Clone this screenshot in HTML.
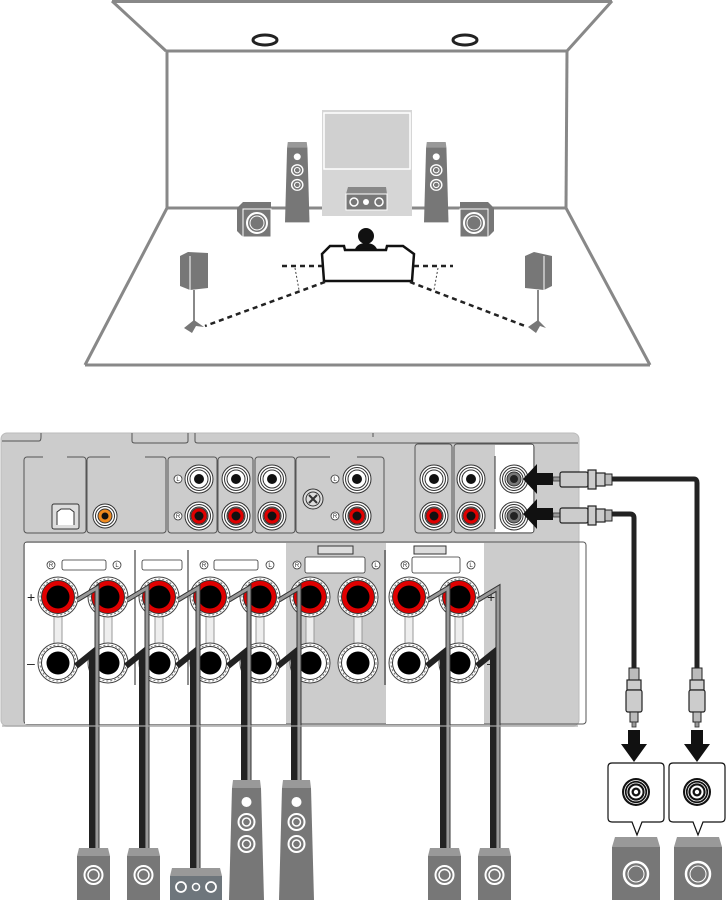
<!DOCTYPE html>
<html><head><meta charset="utf-8"><style>html,body{margin:0;padding:0;background:#fff}svg{display:block}</style></head>
<body>
<svg width="727" height="900" viewBox="0 0 727 900" xmlns="http://www.w3.org/2000/svg">
<defs>
  <g id="rca">
    <circle r="14" fill="#fff" stroke="#333" stroke-width="1"/>
    <circle r="11.5" fill="none" stroke="#333" stroke-width="1"/>
    <circle r="9" fill="#fff" stroke="#333" stroke-width="1"/>
  </g>
  <g id="rcaW"><use href="#rca"/><circle r="5" fill="#111"/></g>
  <g id="rcaR"><use href="#rca"/><circle r="8" fill="#e00000" stroke="#333" stroke-width="0.8"/><circle r="4.5" fill="#111"/></g>
  <g id="rcaG"><use href="#rca"/><circle r="7" fill="#777" stroke="#333"/><circle r="4" fill="#222"/></g>
  <g id="tp">
    <circle r="20" fill="#fff" stroke="#444" stroke-width="1"/>
    <circle r="18" fill="none" stroke="#777" stroke-width="1" stroke-dasharray="2 2"/>
    <circle r="16.5" fill="#e00000" stroke="#333" stroke-width="1"/>
    <circle r="11.5" fill="#000"/>
  </g>
  <g id="tm">
    <circle r="20" fill="#fff" stroke="#444" stroke-width="1"/>
    <circle r="18" fill="none" stroke="#777" stroke-width="1" stroke-dasharray="2 2"/>
    <circle r="16.5" fill="#fff" stroke="#333" stroke-width="1"/>
    <circle r="11.5" fill="#000"/>
  </g>
  <g id="small">
    <polygon points="2,0 31,0 33,8 0,8" fill="#999"/>
    <rect x="0" y="8" width="33" height="44" fill="#777"/>
    <circle cx="16.5" cy="27" r="9" fill="none" stroke="#fff" stroke-width="2"/>
    <circle cx="16.5" cy="27" r="5.5" fill="none" stroke="#fff" stroke-width="1.5"/>
  </g>
  <g id="tall">
    <polygon points="4,0 31,0 32,8 3,8" fill="#999"/>
    <polygon points="3,8 32,8 35,120 0,120" fill="#777"/>
    <circle cx="17.5" cy="22" r="5" fill="#fff"/>
    <circle cx="17.5" cy="42" r="8" fill="none" stroke="#fff" stroke-width="2"/>
    <circle cx="17.5" cy="42" r="4" fill="none" stroke="#fff" stroke-width="1.5"/>
    <circle cx="17.5" cy="64" r="8" fill="none" stroke="#fff" stroke-width="2"/>
    <circle cx="17.5" cy="64" r="4" fill="none" stroke="#fff" stroke-width="1.5"/>
  </g>
</defs>

<!-- ROOM -->
<g stroke="#888" stroke-width="3" fill="none">
  <line x1="112" y1="1.5" x2="612" y2="1.5"/>
  <line x1="112" y1="1" x2="166" y2="51"/>
  <line x1="612" y1="1" x2="567" y2="51"/>
  <line x1="166" y1="51" x2="567" y2="51"/>
  <line x1="167" y1="51" x2="167" y2="208"/>
  <line x1="567" y1="51" x2="566" y2="208"/>
  <line x1="167" y1="208" x2="566" y2="208"/>
  <line x1="167" y1="208" x2="85" y2="365"/>
  <line x1="566" y1="208" x2="650" y2="365"/>
  <line x1="85" y1="365" x2="650" y2="365"/>
</g>
<!-- ceiling speakers -->
<ellipse cx="265" cy="40" rx="12" ry="5" fill="none" stroke="#222" stroke-width="3"/>
<ellipse cx="465" cy="40" rx="12" ry="5" fill="none" stroke="#222" stroke-width="3"/>
<!-- TV -->
<rect x="322" y="110" width="90" height="106" fill="#d6d6d6"/>
<rect x="324" y="113" width="86" height="56" fill="#d0d0d0" stroke="#fff" stroke-width="1.5"/>
<!-- center speaker -->
<polygon points="348,187 386,187 387,194 346,194" fill="#888"/>
<rect x="346" y="194" width="41" height="16" fill="#777" stroke="#fff" stroke-width="1"/>
<circle cx="354" cy="202" r="4" fill="none" stroke="#fff" stroke-width="1.5"/>
<circle cx="366" cy="202" r="3" fill="#fff"/>
<circle cx="379" cy="202" r="4" fill="none" stroke="#fff" stroke-width="1.5"/>
<!-- tall front speakers -->
<g transform="translate(285,142) scale(0.7,0.67)"><use href="#tall"/></g>
<g transform="translate(424,142) scale(0.7,0.67)"><use href="#tall"/></g>
<!-- subwoofers room -->
<g>
  <polygon points="237,208 243,202 271,202 271,237 243,237 237,231" fill="#777"/>
  <rect x="243" y="209" width="28" height="28" fill="#777" stroke="#fff" stroke-width="1"/>
  <circle cx="257" cy="223" r="10" fill="none" stroke="#fff" stroke-width="2"/>
  <circle cx="257" cy="223" r="7" fill="none" stroke="#fff" stroke-width="1"/>
</g>
<g>
  <polygon points="494,208 488,202 460,202 460,237 488,237 494,231" fill="#777"/>
  <rect x="460" y="209" width="28" height="28" fill="#777" stroke="#fff" stroke-width="1"/>
  <circle cx="474" cy="223" r="10" fill="none" stroke="#fff" stroke-width="2"/>
  <circle cx="474" cy="223" r="7" fill="none" stroke="#fff" stroke-width="1"/>
</g>
<!-- person -->
<circle cx="366" cy="236" r="8" fill="#111"/>
<path d="M354,252 Q356,243 366,243 Q376,243 378,252 Z" fill="#111"/>
<!-- sofa -->
<path d="M322,254 L330,246 L344,246 L345,250 L386,250 L387,246 L403,246 L414,254 L412,281 L324,281 Z" fill="#fff" stroke="#111" stroke-width="2.5"/>
<!-- dashed lines -->
<g stroke="#222" stroke-width="2.5" stroke-dasharray="5 4" fill="none">
  <line x1="282" y1="266" x2="322" y2="266"/>
  <line x1="414" y1="266" x2="453" y2="266"/>
  <line x1="325" y1="282" x2="205" y2="326"/>
  <line x1="410" y1="282" x2="525" y2="326"/>
</g>
<g stroke="#444" stroke-width="1" stroke-dasharray="2 2" fill="none">
  <line x1="295" y1="268" x2="299" y2="290"/>
  <line x1="438" y1="268" x2="434" y2="290"/>
</g>
<!-- surround speakers -->
<g>
  <polygon points="180,256 188,252 208,253 208,288 190,290 180,286" fill="#777"/>
  <line x1="190" y1="256" x2="190" y2="290" stroke="#fff" stroke-width="1"/>
  <line x1="194" y1="290" x2="194" y2="322" stroke="#888" stroke-width="2"/>
  <path d="M184,328 L194,320 L204,327 L196,326 L192,333 Z" fill="#777"/>
</g>
<g>
  <polygon points="525,256 534,252 552,256 552,286 544,290 525,288" fill="#777"/>
  <line x1="544" y1="256" x2="544" y2="290" stroke="#fff" stroke-width="1"/>
  <line x1="538" y1="290" x2="538" y2="322" stroke="#888" stroke-width="2"/>
  <path d="M528,327 L538,320 L546,328 L540,326 L536,333 Z" fill="#777"/>
</g>

<!-- RECEIVER PANEL -->
<rect x="1" y="433" width="578" height="293" rx="6" fill="#cccccc" stroke="#bbb"/>
<g stroke="#555" stroke-width="1" fill="none">
  <path d="M2,441 L39,441 Q41,441 41,437 L41,433"/>
  <path d="M132,433 L132,441 Q132,443 135,443 L185,443 Q188,443 188,441 L188,433"/>
  <path d="M195,433 L195,441 Q195,443 198,443 L578,443"/>
  <line x1="373" y1="433" x2="373" y2="437"/>
</g>
<!-- upper boxes -->
<g fill="#cccccc" stroke="#555" stroke-width="1">
  <rect x="24" y="457" width="62" height="76" rx="3"/>
  <rect x="87" y="457" width="79" height="76" rx="3"/>
  <rect x="168" y="457" width="49" height="76" rx="3"/>
  <rect x="218" y="457" width="35" height="76" rx="3"/>
  <rect x="255" y="457" width="40" height="76" rx="3"/>
  <rect x="296" y="457" width="88" height="76" rx="3"/>
  <rect x="415" y="444" width="37" height="89" rx="3"/>
  <rect x="454" y="444" width="80" height="89" rx="3"/>
</g>
<rect x="495" y="445" width="38" height="87" fill="#fff"/>
<line x1="495" y1="456" x2="495" y2="529" stroke="#333"/>
<g stroke="#ccc" stroke-width="3">
  <line x1="43" y1="457" x2="67" y2="457"/>
  <line x1="110" y1="457" x2="145" y2="457"/>
  <line x1="330" y1="457" x2="357" y2="457"/>
</g>
<!-- ethernet -->
<rect x="52" y="504" width="27" height="25" rx="2" fill="#ddd" stroke="#333"/>
<path d="M57,525 L57,512 L61,509 L70,509 L74,512 L74,525" fill="#fff" stroke="#333"/>
<!-- orange jack -->
<circle cx="105" cy="516" r="12" fill="#fff" stroke="#333"/>
<circle cx="105" cy="516" r="9.5" fill="none" stroke="#333"/>
<circle cx="105" cy="516" r="7" fill="#f08a1e" stroke="#333"/>
<circle cx="105" cy="516" r="3.5" fill="#111"/>
<!-- RCA jacks -->
<use href="#rcaW" x="199" y="479"/><use href="#rcaR" x="199" y="516"/>
<use href="#rcaW" x="236" y="479"/><use href="#rcaR" x="236" y="516"/>
<use href="#rcaW" x="272" y="479"/><use href="#rcaR" x="272" y="516"/>
<use href="#rcaW" x="357" y="479"/><use href="#rcaR" x="357" y="516"/>
<use href="#rcaW" x="434" y="479"/><use href="#rcaR" x="434" y="516"/>
<use href="#rcaW" x="471" y="479"/><use href="#rcaR" x="471" y="516"/>
<use href="#rcaG" x="514" y="479"/><use href="#rcaG" x="514" y="516"/>
<g font-family="Liberation Sans, sans-serif" font-size="6" text-anchor="middle" fill="#333">
  <circle cx="178" cy="479" r="4" fill="#fff" stroke="#333" stroke-width="0.8"/><text x="178" y="481">L</text>
  <circle cx="178" cy="516" r="4" fill="#fff" stroke="#333" stroke-width="0.8"/><text x="178" y="518">R</text>
  <circle cx="335" cy="479" r="4" fill="#fff" stroke="#333" stroke-width="0.8"/><text x="335" y="481">L</text>
  <circle cx="335" cy="516" r="4" fill="#fff" stroke="#333" stroke-width="0.8"/><text x="335" y="518">R</text>
</g>
<circle cx="313" cy="499" r="10" fill="#ddd" stroke="#333"/>
<circle cx="313" cy="499" r="7" fill="none" stroke="#333"/>
<path d="M309,495 L317,503 M317,495 L309,503" stroke="#333" stroke-width="2"/>

<!-- lower section -->
<rect x="24" y="542" width="562" height="182" fill="none" stroke="#555" rx="3"/>
<rect x="25" y="543" width="261" height="181" fill="#fff"/>
<rect x="386" y="543" width="98" height="181" fill="#fff"/>
<g stroke="#222" stroke-width="1">
  <line x1="135" y1="550" x2="135" y2="685"/>
  <line x1="188" y1="550" x2="188" y2="685"/>
  <line x1="385" y1="550" x2="385" y2="685"/>
</g>
<rect x="318" y="546" width="35" height="8" fill="#ddd" stroke="#333"/>
<rect x="414" y="546" width="32" height="8" fill="#ddd" stroke="#333"/>
<g fill="#fff" stroke="#333" stroke-width="0.8">
  <rect x="62" y="560" width="44" height="10" rx="2"/>
  <rect x="142" y="560" width="40" height="10" rx="2"/>
  <rect x="214" y="560" width="44" height="10" rx="2"/>
  <rect x="305" y="557" width="60" height="16" rx="2"/>
  <rect x="412" y="557" width="48" height="16" rx="2"/>
</g>
<g font-family="Liberation Sans, sans-serif" font-size="6" text-anchor="middle" fill="#333">
  <circle cx="51" cy="565" r="4" fill="#fff" stroke="#333" stroke-width="0.8"/><text x="51" y="567">R</text>
  <circle cx="117" cy="565" r="4" fill="#fff" stroke="#333" stroke-width="0.8"/><text x="117" y="567">L</text>
  <circle cx="204" cy="565" r="4" fill="#fff" stroke="#333" stroke-width="0.8"/><text x="204" y="567">R</text>
  <circle cx="270" cy="565" r="4" fill="#fff" stroke="#333" stroke-width="0.8"/><text x="270" y="567">L</text>
  <circle cx="297" cy="565" r="4" fill="#fff" stroke="#333" stroke-width="0.8"/><text x="297" y="567">R</text>
  <circle cx="376" cy="565" r="4" fill="#fff" stroke="#333" stroke-width="0.8"/><text x="376" y="567">L</text>
  <circle cx="405" cy="565" r="4" fill="#fff" stroke="#333" stroke-width="0.8"/><text x="405" y="567">R</text>
  <circle cx="471" cy="565" r="4" fill="#fff" stroke="#333" stroke-width="0.8"/><text x="471" y="567">L</text>
</g>
<g font-family="Liberation Sans, sans-serif" font-size="14" fill="#222">
  <text x="27" y="602">+</text><text x="27" y="668">–</text>
  <text x="487" y="602">+</text><text x="487" y="668">–</text>
</g>
<!-- terminals -->
<g>
  <rect x="54" y="615" width="8" height="30" fill="#eee" stroke="#999"/>
  <rect x="104" y="615" width="8" height="30" fill="#eee" stroke="#999"/>
  <rect x="155" y="615" width="8" height="30" fill="#eee" stroke="#999"/>
  <rect x="206" y="615" width="8" height="30" fill="#eee" stroke="#999"/>
  <rect x="256" y="615" width="8" height="30" fill="#eee" stroke="#999"/>
  <rect x="306" y="615" width="8" height="30" fill="#eee" stroke="#999"/>
  <rect x="354" y="615" width="8" height="30" fill="#eee" stroke="#999"/>
  <rect x="405" y="615" width="8" height="30" fill="#eee" stroke="#999"/>
  <rect x="455" y="615" width="8" height="30" fill="#eee" stroke="#999"/>
  <use href="#tp" x="58" y="597"/><use href="#tm" x="58" y="663"/>
  <use href="#tp" x="108" y="597"/><use href="#tm" x="108" y="663"/>
  <use href="#tp" x="159" y="597"/><use href="#tm" x="159" y="663"/>
  <use href="#tp" x="210" y="597"/><use href="#tm" x="210" y="663"/>
  <use href="#tp" x="260" y="597"/><use href="#tm" x="260" y="663"/>
  <use href="#tp" x="310" y="597"/><use href="#tm" x="310" y="663"/>
  <use href="#tp" x="358" y="597"/><use href="#tm" x="358" y="663"/>
  <use href="#tp" x="409" y="597"/><use href="#tm" x="409" y="663"/>
  <use href="#tp" x="459" y="597"/><use href="#tm" x="459" y="663"/>
</g>

<!-- speaker cables -->
<g fill="none" stroke-linejoin="miter">
  <g id="cab1">
    <path d="M77,600 L97,588 L97,848" stroke="#333" stroke-width="5"/>
    <path d="M77,600 L97,588 L97,848" stroke="#999" stroke-width="3"/>
    <path d="M76,666 L92,653 L92,848" stroke="#222" stroke-width="6"/>
  </g>
  <use href="#cab1" x="50"/>
  <path d="M178,600 L198,588 L198,868" stroke="#333" stroke-width="5"/><path d="M178,600 L198,588 L198,868" stroke="#999" stroke-width="3"/>
  <path d="M177,666 L193,653 L193,868" stroke="#222" stroke-width="6"/>
  <path d="M229,600 L249,588 L249,780" stroke="#333" stroke-width="5"/><path d="M229,600 L249,588 L249,780" stroke="#999" stroke-width="3"/>
  <path d="M228,666 L244,653 L244,780" stroke="#222" stroke-width="6"/>
  <path d="M279,600 L299,588 L299,780" stroke="#333" stroke-width="5"/><path d="M279,600 L299,588 L299,780" stroke="#999" stroke-width="3"/>
  <path d="M278,666 L294,653 L294,780" stroke="#222" stroke-width="6"/>
  <use href="#cab1" x="351"/>
  <use href="#cab1" x="401"/>
</g>
<line x1="2" y1="726" x2="578" y2="726" stroke="#aaa" stroke-width="2" opacity="0.6"/>

<!-- bottom speakers -->
<use href="#small" x="77" y="848"/>
<use href="#small" x="127" y="848"/>
<g transform="translate(169,868)">
  <polygon points="3,0 51,0 53,8 1,8" fill="#999"/>
  <rect x="1" y="8" width="52" height="24" fill="#6e767c"/>
  <circle cx="12" cy="19" r="5" fill="none" stroke="#fff" stroke-width="1.8"/>
  <circle cx="27" cy="19" r="3.5" fill="none" stroke="#fff" stroke-width="1.5"/>
  <circle cx="42" cy="19" r="5" fill="none" stroke="#fff" stroke-width="1.8"/>
</g>
<use href="#tall" x="229" y="780"/>
<use href="#tall" x="279" y="780"/>
<use href="#small" x="428" y="848"/>
<use href="#small" x="478" y="848"/>

<!-- subwoofer cables and plugs -->
<g fill="none" stroke="#222" stroke-width="5" stroke-linejoin="round">
  <path d="M612,479 L694,479 Q697,479 697,483 L697,670"/>
  <path d="M612,514 L630,514 Q634,514 634,518 L634,670"/>
</g>
<g id="hplug">
  <rect x="553" y="477" width="8" height="4" fill="#999" stroke="#333" stroke-width="0.8"/>
  <rect x="560" y="472" width="28" height="15" rx="2" fill="#ccc" stroke="#222" stroke-width="1.2"/>
  <rect x="588" y="470" width="8" height="19" fill="#ccc" stroke="#222" stroke-width="1.2"/>
  <rect x="596" y="473" width="9" height="13" fill="#ccc" stroke="#222" stroke-width="1.2"/>
  <rect x="605" y="474" width="7" height="11" fill="#bbb" stroke="#222" stroke-width="1"/>
</g>
<use href="#hplug" y="36"/>
<g id="vplug">
  <rect x="629" y="668" width="10" height="12" fill="#bbb" stroke="#222"/>
  <rect x="627" y="680" width="14" height="10" fill="#ccc" stroke="#222" stroke-width="1.2"/>
  <rect x="626" y="690" width="16" height="22" rx="2" fill="#ccc" stroke="#222" stroke-width="1.2"/>
  <rect x="630" y="712" width="8" height="10" fill="#bbb" stroke="#222"/>
  <rect x="632" y="722" width="4" height="5" fill="#999" stroke="#333" stroke-width="0.8"/>
</g>
<use href="#vplug" x="63"/>
<!-- left arrows -->
<polygon points="523,479 537,464 537,473 553,473 553,485 537,485 537,494" fill="#111"/>
<polygon points="523,514 537,499 537,508 553,508 553,520 537,520 537,529" fill="#111"/>
<!-- down arrows -->
<polygon points="628,730 640,730 640,744 647,744 634,762 621,744 628,744" fill="#111"/>
<polygon points="691,730 703,730 703,744 710,744 697,762 684,744 691,744" fill="#111"/>
<!-- bubbles -->
<g id="bub">
  <path d="M612,763 L660,763 Q664,763 664,767 L664,818 Q664,822 660,822 L642,822 L637,835 L632,822 L612,822 Q608,822 608,818 L608,767 Q608,763 612,763 Z" fill="#fff" stroke="#111" stroke-width="1.2"/>
  <circle cx="636" cy="792" r="14" fill="#111"/>
  <circle cx="636" cy="792" r="11.5" fill="none" stroke="#fff" stroke-width="0.8"/>
  <circle cx="636" cy="792" r="9" fill="none" stroke="#fff" stroke-width="0.8"/>
  <circle cx="636" cy="792" r="6.5" fill="#fff"/>
  <circle cx="636" cy="792" r="4.5" fill="#111"/>
  <circle cx="636" cy="792" r="2.2" fill="#fff"/>
</g>
<use href="#bub" x="61"/>
<!-- subwoofers -->
<g id="sw">
  <polygon points="615,837 657,837 660,847 612,847" fill="#999"/>
  <rect x="612" y="847" width="48" height="53" fill="#777"/>
  <circle cx="636" cy="874" r="12" fill="none" stroke="#fff" stroke-width="2.5"/>
  <circle cx="636" cy="874" r="8" fill="none" stroke="#fff" stroke-width="1"/>
</g>
<use href="#sw" x="62"/>
</svg>
</body></html>
